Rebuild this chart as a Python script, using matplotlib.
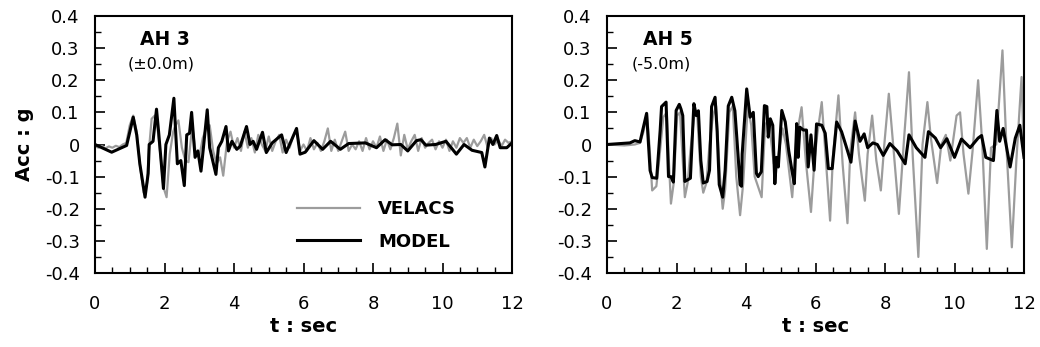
import matplotlib
matplotlib.use("Agg")
import matplotlib.pyplot as plt
from matplotlib.ticker import MultipleLocator, FuncFormatter

plt.rcParams['font.family'] = ['DejaVu Sans']

# ---------------- AH 3 (±0.0m) ----------------
ah3_model_t = [0.0, 0.48, 0.91, 1.10, 1.20, 1.29, 1.44, 1.53, 1.56, 1.67, 1.77, 1.83, 1.97, 2.04,
               2.14, 2.27, 2.37, 2.47, 2.57, 2.64, 2.72, 2.78, 2.88, 2.96, 3.05, 3.12, 3.23, 3.30,
               3.48, 3.55, 3.65, 3.77, 3.84, 3.94, 4.08, 4.18, 4.36, 4.46, 4.55, 4.65, 4.82, 4.93,
               5.10, 5.37, 5.50, 5.80, 5.90, 6.05, 6.30, 6.55, 6.78, 7.06, 7.30, 7.78, 8.10, 8.35,
               8.55, 8.80, 9.00, 9.25, 9.38, 9.52, 9.80, 10.10, 10.40, 10.62, 10.85, 11.13, 11.22,
               11.35, 11.45, 11.56, 11.66, 11.85, 12.0]
ah3_model_a = [0.0, -0.024, -0.003, 0.085, 0.03, -0.06, -0.164, -0.09, 0.0, 0.01, 0.11, 0.04, -0.137, 0.0,
               0.03, 0.144, -0.06, -0.05, -0.128, 0.03, 0.035, 0.10, -0.04, -0.02, -0.083, -0.01, 0.108, -0.01,
               -0.093, -0.01, 0.01, 0.056, -0.02, 0.01, -0.015, -0.005, 0.056, 0.0, 0.01, -0.015, 0.038, -0.025,
               0.005, 0.03, -0.025, 0.05, -0.03, -0.024, 0.012, -0.015, 0.01, -0.015, 0.003, 0.005, -0.01, 0.015,
               -0.001, 0.0, -0.02, 0.012, 0.015, -0.002, 0.0, 0.01, -0.03, 0.0, -0.018, -0.025, -0.07,
               0.02, 0.0, 0.028, -0.01, -0.01, 0.005]

ah3_velacs_t = [0.0, 0.1, 0.2, 0.3, 0.4, 0.5, 0.6, 0.7, 0.8, 0.9, 1.0, 1.1, 1.2, 1.3, 1.4, 1.5, 1.55,
                1.63, 1.72, 1.8, 1.9, 1.97, 2.06, 2.15, 2.25, 2.32, 2.40, 2.5, 2.6, 2.69, 2.8, 2.9, 3.0,
                3.1, 3.2, 3.3, 3.4, 3.5, 3.6, 3.69, 3.8, 3.9,
                4.0, 4.1, 4.2, 4.3, 4.4, 4.5, 4.6, 4.7, 4.8, 4.9, 5.0, 5.1, 5.2, 5.3, 5.4, 5.5, 5.6,
                5.7, 5.8, 5.9, 6.0, 6.1, 6.2, 6.3, 6.4, 6.5, 6.6, 6.7, 6.8, 6.9, 7.0, 7.1, 7.2, 7.3,
                7.4, 7.5, 7.6, 7.7, 7.8, 7.9, 8.0, 8.1, 8.2, 8.3, 8.4, 8.5, 8.6, 8.7, 8.8, 8.9, 9.0,
                9.1, 9.2, 9.3, 9.4, 9.5, 9.6, 9.7, 9.8, 9.9, 10.0, 10.1, 10.2, 10.3, 10.4, 10.5, 10.6,
                10.7, 10.8, 10.9, 11.0, 11.1, 11.2, 11.3, 11.4, 11.5, 11.6, 11.7, 11.8, 11.9, 12.0]
ah3_velacs_a = [-0.005, -0.01, -0.005, -0.012, -0.006, -0.01, -0.004, -0.008, 0.0, 0.005, 0.06, 0.09, 0.04,
                -0.07, -0.15, -0.12, -0.02, 0.08, 0.09, 0.05, -0.05, -0.133, -0.164, -0.03, 0.04, 0.06,
                0.075, -0.01, -0.05, -0.055, 0.06, -0.03, -0.04, 0.02, 0.05, 0.06, -0.02, -0.06, -0.04,
                -0.097, 0.01, 0.04,
                -0.01, 0.02, -0.02, 0.04, -0.01, 0.02, -0.025, 0.03, 0.0, -0.02, 0.025, -0.02, 0.01,
                0.03, -0.025, 0.015, -0.01, 0.025, 0.045, -0.02, 0.0, -0.02, 0.02, -0.015, 0.005,
                -0.02, 0.01, 0.05, -0.02, 0.015, -0.02, 0.01, 0.04, -0.02, 0.0, -0.015, 0.01, -0.02,
                0.02, -0.015, 0.01, -0.01, 0.025, -0.02, 0.015, -0.015, 0.02, 0.065, -0.034, 0.03,
                -0.015, 0.01, 0.03, -0.02, 0.02, -0.01, 0.005, 0.015, -0.015, 0.01, -0.01, 0.015,
                -0.02, 0.01, -0.01, 0.02, 0.005, 0.02, -0.01, 0.015, -0.005, 0.01, 0.03, -0.01, 0.02,
                0.0, 0.015, -0.005, 0.015, 0.005, 0.01]

# ---------------- AH 5 (-5.0m) ----------------
ah5_model_t = [0.0, 0.66, 0.80, 0.95, 1.14, 1.24, 1.30, 1.43, 1.53, 1.57, 1.70, 1.77, 1.84, 1.91, 1.99,
               2.08, 2.13, 2.18, 2.24, 2.32, 2.40, 2.50, 2.57, 2.63, 2.70, 2.77, 2.88, 2.95, 3.01, 3.11,
               3.17, 3.23, 3.33, 3.40, 3.49, 3.59, 3.68, 3.73, 3.83, 3.87, 3.89, 4.02, 4.12, 4.21, 4.30,
               4.35, 4.44, 4.53, 4.60, 4.64, 4.70, 4.77, 4.83, 4.88, 4.93, 5.03, 5.13, 5.23, 5.32, 5.39,
               5.46, 5.50, 5.55, 5.65, 5.74, 5.79, 5.87, 5.96, 6.03, 6.18, 6.28, 6.37, 6.48, 6.61, 6.75,
               6.88, 7.02, 7.14, 7.28, 7.40, 7.50, 7.65, 7.78, 7.95, 8.14, 8.35, 8.58, 8.69, 8.90, 9.15,
               9.25, 9.45, 9.60, 9.78, 10.0, 10.2, 10.45, 10.68, 10.78, 10.90, 11.12, 11.22, 11.30,
               11.40, 11.60, 11.75, 11.88, 12.0]
ah5_model_a = [0.0, 0.005, 0.012, 0.008, 0.097, -0.081, -0.103, -0.105, 0.044, 0.118, 0.132, -0.10, -0.10,
               -0.117, 0.106, 0.125, 0.11, 0.09, -0.115, -0.11, -0.105, 0.127, 0.09, 0.105, -0.05, -0.12,
               -0.115, -0.08, 0.118, 0.147, 0.04, -0.125, -0.164, -0.08, 0.12, 0.147, 0.105, 0.03, -0.125,
               -0.13, -0.03, 0.173, 0.085, 0.10, -0.09, -0.10, -0.085, 0.121, 0.118, 0.023, 0.08, 0.06,
               -0.122, -0.04, -0.07, 0.106, 0.07, -0.02, -0.08, -0.122, 0.065, -0.04, 0.054, 0.045, 0.045,
               -0.07, 0.03, -0.08, 0.064, 0.06, 0.035, -0.075, -0.075, 0.07, 0.04, -0.005, -0.055, 0.073,
               0.01, 0.033, -0.01, 0.005, 0.0, -0.034, 0.003, -0.02, -0.06, 0.03, -0.01, -0.04, 0.04,
               0.02, -0.01, 0.018, -0.04, 0.017, -0.01, 0.02, 0.028, -0.04, -0.05, 0.106, 0.01, 0.05,
               -0.07, 0.02, 0.06, -0.04]

ah5_velacs_t = [0.0, 0.5, 0.8, 0.95, 1.05, 1.15, 1.22, 1.30, 1.42, 1.50, 1.62, 1.72, 1.78, 1.84, 1.92,
                2.02, 2.10, 2.18, 2.24, 2.32, 2.40, 2.52, 2.60, 2.70, 2.77, 2.86, 2.95, 3.05, 3.14, 3.25,
                3.33, 3.40, 3.52, 3.62, 3.72, 3.83, 3.92, 4.05, 4.15, 4.25, 4.45, 4.55, 4.65, 4.80, 4.92,
                5.05, 5.15, 5.33, 5.45, 5.60, 5.72, 5.87, 5.97, 6.05, 6.18, 6.30, 6.42, 6.50, 6.66, 6.78,
                6.92, 7.00, 7.14, 7.25, 7.42, 7.50, 7.63, 7.75, 7.88, 7.98, 8.11, 8.25, 8.40, 8.55, 8.69,
                8.80, 8.96, 9.08, 9.22, 9.32, 9.50, 9.62, 9.75, 9.88, 10.06, 10.16, 10.26, 10.40, 10.52,
                10.68, 10.80, 10.93, 11.05, 11.20, 11.38, 11.50, 11.65, 11.78, 11.93, 12.0]
ah5_velacs_a = [0.0, -0.003, 0.0, 0.005, 0.04, 0.095, 0.0, -0.143, -0.13, -0.05, 0.085, 0.10, -0.05,
                -0.184, -0.12, 0.09, 0.10, -0.05, -0.164, -0.12, -0.02, 0.10, 0.085, -0.10, -0.15, -0.12,
                0.0, 0.09, 0.12, -0.10, -0.20, -0.14, 0.10, 0.12, -0.10, -0.22, -0.12, 0.12, 0.06, -0.10,
                -0.164, 0.06, 0.08, -0.06, -0.04, 0.05, 0.0, -0.164, 0.02, 0.116, -0.05, -0.21, -0.05,
                0.03, 0.132, -0.05, -0.237, -0.04, 0.153, -0.06, -0.245, -0.02, 0.10, -0.03, -0.175,
                -0.03, 0.09, -0.05, -0.143, 0.0, 0.158, -0.02, -0.216, 0.02, 0.225, -0.04, -0.35, 0.0,
                0.132, 0.02, -0.12, 0.0, 0.03, -0.05, 0.09, 0.10, -0.03, -0.153, -0.02, 0.20, 0.0,
                -0.325, -0.01, 0.0, 0.293, -0.02, -0.32, -0.05, 0.21, -0.04]

panel_titles = ["AH 3", "AH 5"]
panel_depths = ["(\u00b10.0m)", "(-5.0m)"]
series_names = ["VELACS", "MODEL"]
x_label = "t : sec"
y_label = "Acc : g"

fig = plt.figure(figsize=(10.4, 3.47), dpi=100)
ax1 = fig.add_axes([95 / 1040, 74 / 347, 417 / 1040, 257 / 347])
ax2 = fig.add_axes([607 / 1040, 74 / 347, 417 / 1040, 257 / 347])

gray = "#9c9c9c"
fmt = FuncFormatter(lambda v, p: "0" if abs(v) < 1e-9 else f"{v:.1f}")

data = [(ah3_velacs_t, ah3_velacs_a, ah3_model_t, ah3_model_a),
        (ah5_velacs_t, ah5_velacs_a, ah5_model_t, ah5_model_a)]
title_x = [0.108, 0.086]
depth_x = [0.079, 0.060]

for i, ax in enumerate([ax1, ax2]):
    vt, va, mt, ma = data[i]
    ax.plot(vt, va, color=gray, lw=1.6, label=series_names[0])
    ax.plot(mt, ma, color="black", lw=2.2, label=series_names[1])
    ax.set_xlim(0, 12)
    ax.set_ylim(-0.4, 0.4)
    ax.xaxis.set_major_locator(MultipleLocator(2))
    ax.xaxis.set_minor_locator(MultipleLocator(0.5))
    ax.yaxis.set_major_locator(MultipleLocator(0.1))
    ax.yaxis.set_minor_locator(MultipleLocator(0.05))
    ax.yaxis.set_major_formatter(fmt)
    ax.tick_params(which="major", direction="in", length=7, width=1.2, labelsize=13)
    ax.tick_params(axis="y", which="major", pad=11)
    ax.tick_params(axis="x", which="major", pad=16)
    ax.tick_params(which="minor", direction="in", length=4, width=1.0)
    for s in ax.spines.values():
        s.set_linewidth(1.5)
    ax.set_xlabel(x_label, fontsize=14, fontweight="bold", labelpad=3)
    ax.text(title_x[i], 0.91, panel_titles[i], transform=ax.transAxes, fontsize=13.5,
            fontweight="bold", va="center", ha="left")
    ax.text(depth_x[i], 0.815, panel_depths[i], transform=ax.transAxes, fontsize=11.5,
            va="center", ha="left")

ax1.set_ylabel(y_label, fontsize=14, fontweight="bold", labelpad=8)

ax1.legend(loc="center left", bbox_to_anchor=(0.484, 0.185), frameon=False, handlelength=3.5,
           handletextpad=1.0, labelspacing=0.8, borderpad=0, borderaxespad=0,
           prop={"weight": "bold", "size": 13})

fig.savefig("out.png", dpi=100)
